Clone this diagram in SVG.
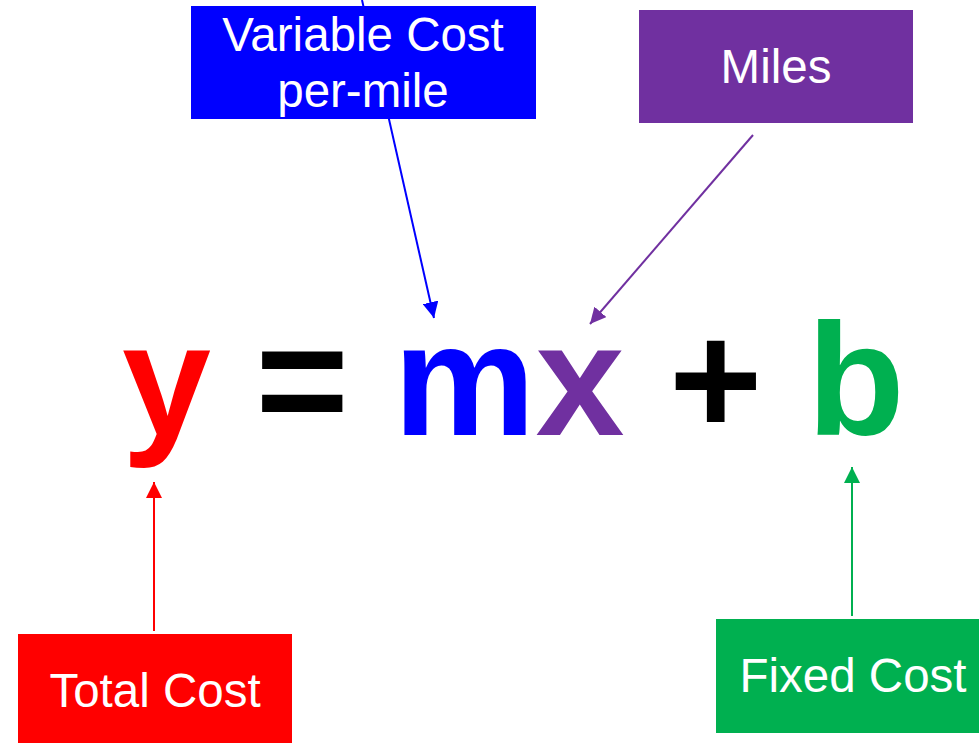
<svg xmlns="http://www.w3.org/2000/svg" width="979" height="743" viewBox="0 0 979 743">
<style>
.lbl{font-family:"Liberation Sans",Arial,sans-serif;font-size:47.5px;fill:#fff;text-anchor:middle}
.eq{font-family:"Liberation Sans",Arial,sans-serif;font-size:160px;font-weight:bold}
.c{fill:none;stroke-width:2}
</style>
<defs>
<marker id="aB" markerUnits="userSpaceOnUse" markerWidth="16" markerHeight="16" refX="16" refY="8" orient="auto" viewBox="0 0 16 16"><path d="M0,0 L16,8 L0,16 Z" fill="#0000FF"/></marker>
<marker id="aP" markerUnits="userSpaceOnUse" markerWidth="16" markerHeight="16" refX="16" refY="8" orient="auto" viewBox="0 0 16 16"><path d="M0,0 L16,8 L0,16 Z" fill="#7030A0"/></marker>
<marker id="aR" markerUnits="userSpaceOnUse" markerWidth="16" markerHeight="16" refX="16" refY="8" orient="auto" viewBox="0 0 16 16"><path d="M0,0 L16,8 L0,16 Z" fill="#FF0000"/></marker>
<marker id="aG" markerUnits="userSpaceOnUse" markerWidth="16" markerHeight="16" refX="16" refY="8" orient="auto" viewBox="0 0 16 16"><path d="M0,0 L16,8 L0,16 Z" fill="#00B050"/></marker>
</defs>
<rect width="979" height="743" fill="#fff"/>
<g id="connectors">
<line class="c" x1="362" y1="0" x2="434" y2="318" stroke="#0000FF" stroke-width="2.5" marker-end="url(#aB)"/>
<line class="c" x1="753" y1="135" x2="590" y2="324" stroke="#7030A0" marker-end="url(#aP)"/>
<line class="c" x1="154" y1="631" x2="154" y2="482" stroke="#FF0000" marker-end="url(#aR)"/>
<line class="c" x1="852" y1="616" x2="852" y2="467" stroke="#00B050" marker-end="url(#aG)"/>
</g>
<g id="variable-cost">
<rect x="191" y="6" width="345" height="113" fill="#0000FF"/>
<text class="lbl" x="363" y="51">Variable Cost</text>
<text class="lbl" x="363" y="107">per-mile</text>
</g>
<g id="miles">
<rect x="639" y="10" width="274" height="113" fill="#7030A0"/>
<text class="lbl" x="776" y="83">Miles</text>
</g>
<g id="total-cost">
<rect x="18" y="634" width="274" height="112" fill="#FF0000"/>
<text class="lbl" x="155" y="707">Total Cost</text>
</g>
<g id="fixed-cost">
<rect x="716" y="619" width="274" height="114" fill="#00B050"/>
<text class="lbl" x="853" y="692">Fixed Cost</text>
</g>
<g id="equation">
<text class="eq" x="122" y="435"><tspan fill="#FF0000">y</tspan><tspan fill="#000"> = </tspan><tspan fill="#0000FF">m</tspan><tspan fill="#7030A0">x</tspan><tspan fill="#000"> + </tspan><tspan fill="#00B050">b</tspan></text>
</g>
</svg>
